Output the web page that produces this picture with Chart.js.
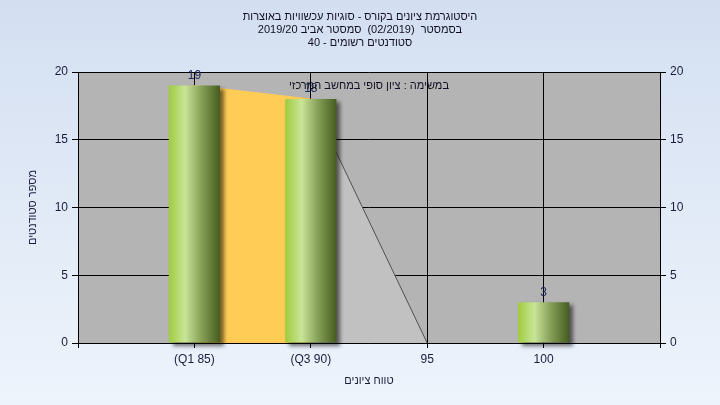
<!DOCTYPE html>
<html>
<head>
<meta charset="utf-8">
<script src="https://cdn.jsdelivr.net/npm/chart.js@4.4.0/dist/chart.umd.min.js"></script>
<style>
    html, body { margin: 0; padding: 0; }
    body { width: 720px; height: 405px; background: linear-gradient(#d3dff1, #eef4fc); }
    #wrap { width: 720px; height: 405px; }
</style>
</head>
<body>
<div id="wrap"><canvas id="histChart"></canvas></div>
<script>
// Chart data
const titleLines = [
    'היסטוגרמת ציונים בקורס - סוגיות עכשוויות באוצרות',
    'בסמסטר  (02/2019)  סמסטר אביב 2019/20',
    'סטודנטים רשומים - 40'
];
const noteText = 'במשימה : ציון סופי במחשב המרכזי';
const xTitle = 'טווח ציונים';
const yTitle = 'מספר סטודנטים';

const gradeTicks = [85, 90, 95, 100];
const gradeLabels = ['(Q1 85)', '(Q3 90)', '95', '100'];
const studentCounts = [19, 18, 0, 3];
const curveCounts = [19, 18, 0, 0];

const textColor = '#1c1c3c';
const fontFamily = 'Arial, "Liberation Sans", sans-serif';
const tickFont = { family: fontFamily, size: 12, lineHeight: 1.2 };
const hebFont = { family: fontFamily, size: 11, lineHeight: 1.2 };
const barPct = 0.44;

// gray plot background
const plotBackground = {
    id: 'plotBackground',
    beforeDraw(chart) {
        const { ctx, chartArea } = chart;
        ctx.save();
        ctx.fillStyle = '#b4b4b4';
        ctx.fillRect(chartArea.left, chartArea.top, chartArea.right - chartArea.left, chartArea.bottom - chartArea.top);
        ctx.restore();
    }
};

// drop shadow behind the bars
const barShadow = {
    id: 'barShadow',
    beforeDatasetDraw(chart, args) {
        if (args.meta.type !== 'bar') return;
        const c = chart.ctx;
        c.save();
        c.shadowColor = 'rgba(0,0,0,0.55)';
        c.shadowBlur = 4;
        c.shadowOffsetX = 4;
        c.shadowOffsetY = 3;
    },
    afterDatasetDraw(chart, args) {
        if (args.meta.type !== 'bar') return;
        chart.ctx.restore();
    }
};

// title lines, value labels and the note inside the plot
const extraText = {
    id: 'extraText',
    afterDraw(chart) {
        const { ctx, chartArea } = chart;
        ctx.save();
        ctx.font = '11px ' + fontFamily;
        ctx.textAlign = 'center';
        ctx.textBaseline = 'middle';
        ctx.fillStyle = '#101020';
        titleLines.forEach((line, i) => {
            ctx.fillText(line, chart.width / 2, 17 + i * 13);
        });

        const meta = chart.getDatasetMeta(0);
        ctx.font = '12px ' + fontFamily;
        ctx.fillStyle = '#1a2a5a';
        ctx.textBaseline = 'bottom';
        meta.data.forEach((bar, i) => {
            if (studentCounts[i] > 0) {
                ctx.fillText(String(studentCounts[i]), bar.x, bar.y - 4);
            }
        });

        ctx.font = '11px ' + fontFamily;
        ctx.fillStyle = '#101020';
        ctx.textBaseline = 'middle';
        ctx.fillText(noteText, (chartArea.left + chartArea.right) / 2, chartArea.top + 14);
        ctx.restore();
    }
};

function barGradient(context) {
    const chart = context.chart;
    const { ctx, chartArea, scales } = chart;
    if (!chartArea || context.type !== 'data') return '#a0cc40';
    const xc = scales.x.getPixelForValue(context.raw.x);
    const half = (scales.x.getPixelForValue(90) - scales.x.getPixelForValue(85)) * barPct / 2;
    const g = ctx.createLinearGradient(xc - half, 0, xc + half, 0);
    g.addColorStop(0, '#9fcb3f');
    g.addColorStop(0.32, '#c9e597');
    g.addColorStop(0.62, '#8aa35a');
    g.addColorStop(1, '#455c1f');
    return g;
}

const segmentFill = ['#ffcc55', '#c1c1c1', 'rgba(0,0,0,0)'];
const segmentLine = ['#ffcc55', '#505050', 'rgba(0,0,0,0)'];

const ctx = document.getElementById('histChart').getContext('2d');
new Chart(ctx, {
    type: 'bar',
    data: {
        datasets: [{
            type: 'bar',
            order: 1,
            clip: false,
            data: gradeTicks.map((g, i) => ({ x: g, y: studentCounts[i] })),
            backgroundColor: barGradient,
            borderWidth: 0,
            barPercentage: barPct,
            categoryPercentage: 1
        }, {
            type: 'line',
            order: 2,
            data: gradeTicks.map((g, i) => ({ x: g, y: curveCounts[i] })),
            fill: 'origin',
            tension: 0,
            pointRadius: 0,
            borderWidth: 1,
            borderColor: '#505050',
            backgroundColor: '#c1c1c1',
            segment: {
                backgroundColor: c => segmentFill[c.p0DataIndex],
                borderColor: c => segmentLine[c.p0DataIndex]
            }
        }]
    },
    options: {
        responsive: true,
        maintainAspectRatio: false,
        animation: false,
        layout: { padding: { top: 72, left: 0, right: 0, bottom: 0 } },
        plugins: {
            legend: { display: false },
            tooltip: { enabled: false }
        },
        scales: {
            x: {
                type: 'linear',
                offset: false,
                min: 80,
                max: 105,
                ticks: {
                    stepSize: 5,
                    autoSkip: false,
                    maxRotation: 0,
                    padding: 4,
                    color: textColor,
                    font: tickFont,
                    callback: v => {
                        const i = gradeTicks.indexOf(v);
                        return i >= 0 ? gradeLabels[i] : '';
                    }
                },
                grid: { offset: false, color: '#000', lineWidth: 1, tickLength: 5 },
                border: { color: '#000', width: 1 },
                title: { display: true, text: xTitle, color: textColor, font: hebFont, padding: { top: 0, bottom: 17 } },
                afterFit: s => { s.height = 62; }
            },
            y: {
                position: 'left',
                min: 0,
                max: 20,
                ticks: { stepSize: 5, padding: 4, color: textColor, font: tickFont },
                grid: { color: '#000', lineWidth: 1, tickLength: 6 },
                border: { color: '#000', width: 1 },
                title: { display: true, text: yTitle, color: textColor, font: hebFont, padding: { top: 26, bottom: 0 } },
                afterFit: s => { s.width = 78; }
            },
            y2: {
                position: 'right',
                min: 0,
                max: 20,
                ticks: { stepSize: 5, padding: 4, color: textColor, font: tickFont },
                grid: { drawOnChartArea: false, color: '#000', tickLength: 6 },
                border: { color: '#000', width: 1 },
                afterFit: s => { s.width = 60; }
            }
        }
    },
    plugins: [plotBackground, barShadow, extraText]
});
</script>
</body>
</html>
